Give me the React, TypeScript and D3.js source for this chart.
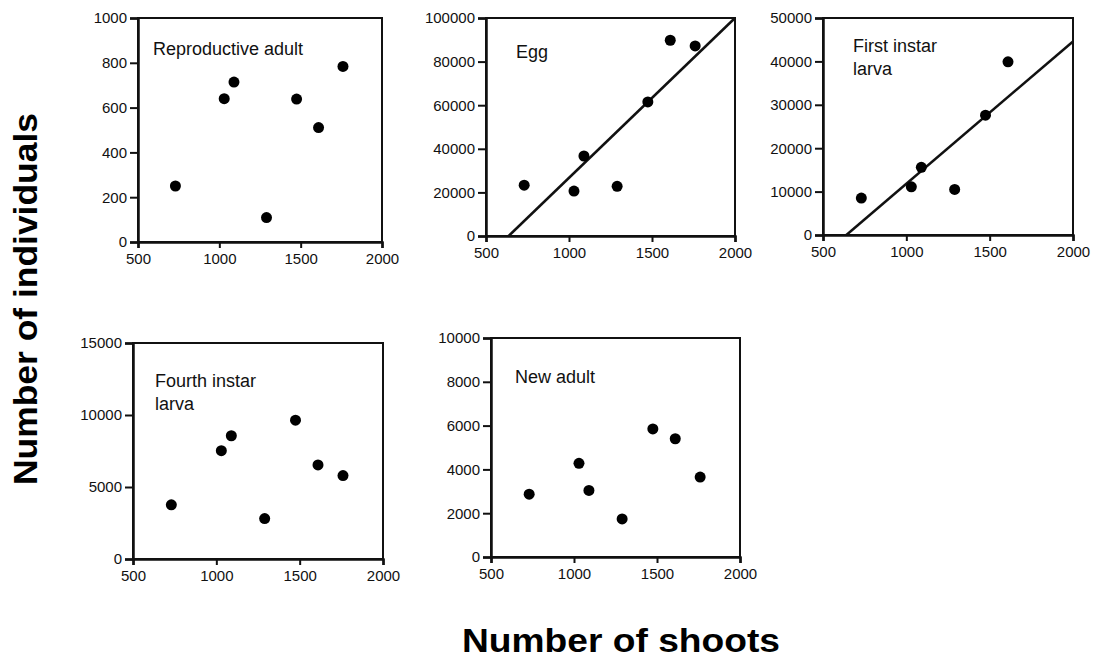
import { useEffect, useRef } from 'react';
import * as d3 from 'd3';

// shoots per site (x values shared by every panel)
const shoots = [730, 1030, 1090, 1290, 1475, 1610, 1760];

const reproductiveAdult = [250, 640, 714, 109, 638, 511, 784];
const egg = [23300, 20600, 36700, 22800, 61500, 89800, 87200];
const firstInstar = [8500, 11100, 15600, 10500, 27600, 39900, null];
const fourthInstar = [3760, 7520, 8560, 2810, 9640, 6530, 5790];
const newAdult = [2870, 4280, 3040, 1740, 5850, 5400, 3650];

// fitted lines: [x, y] at both ends
const eggFit = [[636, 0], [2000, 100000]];
const firstInstarFit = [[640, 0], [2000, 44600]];

const xTicks = [500, 1000, 1500, 2000];
const xDomain = [500, 2000];

type Panel = {
  label: string[];
  values: (number | null)[];
  yMax: number;
  yStep: number;
  fit?: number[][];
  // frame in page pixels: left, top, right, bottom
  box: [number, number, number, number];
  labelAt: [number, number];
};

const panels: Panel[] = [
  { label: ['Reproductive adult'], values: reproductiveAdult, yMax: 1000, yStep: 200,
    box: [138, 18, 382, 242], labelAt: [15, 37] },
  { label: ['Egg'], values: egg, yMax: 100000, yStep: 20000, fit: eggFit,
    box: [486, 18, 735, 236], labelAt: [30, 40] },
  { label: ['First instar', 'larva'], values: firstInstar, yMax: 50000, yStep: 10000, fit: firstInstarFit,
    box: [823, 18, 1073, 235], labelAt: [30, 34] },
  { label: ['Fourth instar', 'larva'], values: fourthInstar, yMax: 15000, yStep: 5000,
    box: [133, 343, 383, 559], labelAt: [22, 44] },
  { label: ['New adult'], values: newAdult, yMax: 10000, yStep: 2000,
    box: [491, 338, 740, 557], labelAt: [24, 45] },
];

const FONT = '"Liberation Sans", Arial, Helvetica, sans-serif';

const App = () => {
  const ref = useRef<SVGSVGElement>(null);

  useEffect(() => {
    const svg = d3.select(ref.current);
    svg.selectAll('*').remove();

    panels.forEach((p) => {
      const [left, top, right, bottom] = p.box;
      const x = d3.scaleLinear().domain(xDomain).range([left, right]);
      const y = d3.scaleLinear().domain([0, p.yMax]).range([bottom, top]);
      const g = svg.append('g');

      // frame
      g.append('rect')
        .attr('x', left).attr('y', top)
        .attr('width', right - left).attr('height', bottom - top)
        .attr('fill', 'none').attr('stroke', '#111').attr('stroke-width', 2);

      const yAxis = d3.axisLeft(y)
        .tickValues(d3.range(0, p.yMax + 1, p.yStep))
        .tickFormat(d3.format('d'))
        .tickSize(8).tickPadding(3);
      const ya = g.append('g').attr('transform', `translate(${left},0)`).call(yAxis);

      const xAxis = d3.axisBottom(x)
        .tickValues(xTicks)
        .tickFormat(d3.format('d'))
        .tickSize(6).tickPadding(5);
      const xa = g.append('g').attr('transform', `translate(0,${bottom})`).call(xAxis);

      [ya, xa].forEach((a) => {
        a.select('.domain').attr('stroke', '#111').attr('stroke-width', 2.5);
        a.selectAll('.tick line').attr('stroke', '#111').attr('stroke-width', 2);
        a.selectAll('.tick text')
          .attr('fill', '#111')
          .style('font-family', FONT)
          .style('font-size', '15px');
      });

      if (p.fit) {
        const line = d3.line<number[]>().x((d) => x(d[0])).y((d) => y(d[1]));
        g.append('path')
          .attr('d', line(p.fit))
          .attr('fill', 'none').attr('stroke', '#111').attr('stroke-width', 2.5);
      }

      const pts = shoots
        .map((s, i) => ({ s, v: p.values[i] }))
        .filter((d) => d.v != null);
      g.selectAll('circle.dot')
        .data(pts)
        .enter()
        .append('circle')
        .attr('class', 'dot')
        .attr('cx', (d) => x(d.s))
        .attr('cy', (d) => y(d.v as number))
        .attr('r', 5.5)
        .attr('fill', '#000');

      const t = g.append('text')
        .attr('x', left + p.labelAt[0])
        .attr('y', top + p.labelAt[1])
        .attr('fill', '#111')
        .style('font-family', FONT)
        .style('font-size', '18px');
      p.label.forEach((line, i) => {
        t.append('tspan')
          .attr('x', left + p.labelAt[0])
          .attr('dy', i === 0 ? 0 : 23)
          .text(line);
      });
    });

    // shared axis titles
    svg.append('text')
      .attr('transform', 'translate(37,299) rotate(-90)')
      .attr('text-anchor', 'middle')
      .attr('textLength', 372)
      .attr('lengthAdjust', 'spacingAndGlyphs')
      .style('font-family', FONT)
      .style('font-size', '33px')
      .style('font-weight', 'bold')
      .attr('fill', '#000')
      .text('Number of individuals');

    svg.append('text')
      .attr('x', 621)
      .attr('y', 652)
      .attr('text-anchor', 'middle')
      .attr('textLength', 318)
      .attr('lengthAdjust', 'spacingAndGlyphs')
      .style('font-family', FONT)
      .style('font-size', '33px')
      .style('font-weight', 'bold')
      .attr('fill', '#000')
      .text('Number of shoots');
  }, []);

  return (
    <svg
      ref={ref}
      width={1093}
      height={660}
      style={{ position: 'absolute', left: 0, top: 0, background: '#fff' }}
    />
  );
};

export default App;
